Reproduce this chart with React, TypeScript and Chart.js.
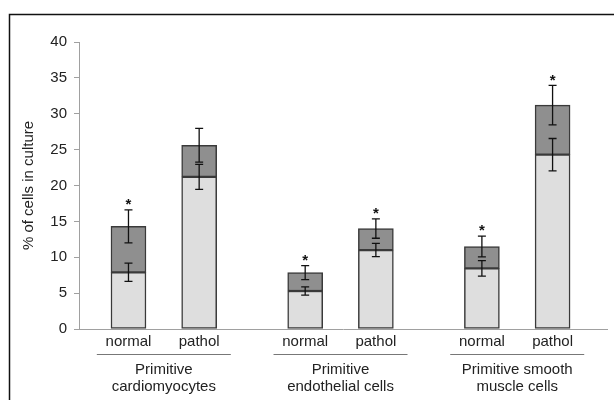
import React, { useEffect, useRef } from "react";
import { Chart, registerables } from "chart.js";

Chart.register(...registerables);

// ---- data ----
const categories = ["normal", "pathol", "normal", "pathol", "normal", "pathol"];
const groupLabels = [
  ["Primitive", "cardiomyocytes"],
  ["Primitive", "endothelial cells"],
  ["Primitive smooth", "muscle cells"],
];
const lightValues = [7.9, 21.2, 5.3, 11.0, 8.45, 24.3];
const darkValues = [6.4, 4.4, 2.55, 3.0, 3.05, 6.9];
const lightErrors = [1.27, 1.75, 0.58, 0.92, 1.07, 2.25];
const darkErrors = [2.3, 2.35, 0.97, 1.35, 1.45, 2.75];
const significant = [true, false, true, true, true, true];
const yTicks = [0, 5, 10, 15, 20, 25, 30, 35, 40];

const FONT = "'Liberation Sans', Arial, sans-serif";
const PER_GROUP = 2;
const GROUP_GAP = 0.5;
const xOf = (i: number) => Math.floor(i / PER_GROUP) * (PER_GROUP + GROUP_GAP) + (i % PER_GROUP);

const overlayPlugin = {
  id: "overlay",
  beforeDraw(chart: any) {
    const { ctx, width, height } = chart;
    ctx.save();
    ctx.fillStyle = "#ffffff";
    ctx.fillRect(0, 0, width, height);
    ctx.strokeStyle = "#111";
    ctx.lineWidth = 1.5;
    ctx.beginPath();
    ctx.moveTo(9.5, height + 5);
    ctx.lineTo(9.5, 14.5);
    ctx.lineTo(width + 5, 14.5);
    ctx.stroke();
    ctx.restore();
  },
  afterDatasetsDraw(chart: any) {
    const { ctx, chartArea } = chart;
    const xs = chart.scales.x;
    const ys = chart.scales.y;
    ctx.save();
    // error bars
    const cap = 4;
    ctx.strokeStyle = "#111";
    ctx.lineWidth = 1.3;
    const drawErr = (px: number, v: number, e: number) => {
      const top = ys.getPixelForValue(v + e);
      const bot = ys.getPixelForValue(v - e);
      ctx.beginPath();
      ctx.moveTo(px, top);
      ctx.lineTo(px, bot);
      ctx.moveTo(px - cap, top);
      ctx.lineTo(px + cap, top);
      ctx.moveTo(px - cap, bot);
      ctx.lineTo(px + cap, bot);
      ctx.stroke();
    };
    categories.forEach((_, i) => {
      const px = xs.getPixelForValue(xOf(i));
      const total = lightValues[i] + darkValues[i];
      drawErr(px, lightValues[i], lightErrors[i]);
      drawErr(px, total, darkErrors[i]);
      if (significant[i]) {
        const top = ys.getPixelForValue(total + darkErrors[i]);
        ctx.fillStyle = "#111";
        ctx.font = `bold 15px ${FONT}`;
        ctx.textAlign = "center";
        ctx.textBaseline = "middle";
        ctx.fillText("*", px, top - 5);
      }
    });
    // category labels
    ctx.fillStyle = "#222";
    ctx.font = `15px ${FONT}`;
    ctx.textAlign = "center";
    ctx.textBaseline = "middle";
    categories.forEach((c, i) => {
      ctx.fillText(c, xs.getPixelForValue(xOf(i)), chartArea.bottom + 12.5);
    });
    // group labels
    groupLabels.forEach((lines, g) => {
      const first = g * PER_GROUP;
      const last = first + PER_GROUP - 1;
      const mid = (xs.getPixelForValue(xOf(first)) + xs.getPixelForValue(xOf(last))) / 2;
      ctx.strokeStyle = "#777";
      ctx.lineWidth = 1;
      ctx.beginPath();
      ctx.moveTo(mid - 67, chartArea.bottom + 25.5);
      ctx.lineTo(mid + 67, chartArea.bottom + 25.5);
      ctx.stroke();
      lines.forEach((t, k) => {
        ctx.fillText(t, mid, chartArea.bottom + 41 + k * 17);
      });
    });
    ctx.restore();
  },
};

export default function App() {
  const ref = useRef<HTMLCanvasElement | null>(null);
  useEffect(() => {
    document.body.style.margin = "0";
    if (!ref.current) return;
    const chart = new Chart(ref.current, {
      type: "bar",
      data: {
        datasets: [
          {
            label: "light",
            data: lightValues.map((v, i) => ({ x: xOf(i), y: v })),
            backgroundColor: "#dedede",
            borderColor: "#3a3a3a",
            borderWidth: 1.5,
            borderSkipped: false,
            barThickness: 35,
          },
          {
            label: "dark",
            data: darkValues.map((v, i) => ({ x: xOf(i), y: v })),
            backgroundColor: "#8f8f8f",
            borderColor: "#3a3a3a",
            borderWidth: 1.5,
            borderSkipped: false,
            barThickness: 35,
          },
        ],
      },
      options: {
        animation: false,
        responsive: true,
        maintainAspectRatio: false,
        layout: { padding: { left: 16, right: 7, top: 42, bottom: 0 } },
        plugins: { legend: { display: false }, tooltip: { enabled: false } },
        scales: {
          x: {
            type: "linear",
            stacked: true,
            offset: false,
            min: -0.7,
            max: 6.77,
            ticks: { display: false },
            grid: { display: false, drawTicks: false, offset: false },
            border: { display: true, color: "#a0a0a0", width: 1 },
            afterFit: (axis: any) => {
              axis.height = 71;
            },
          },
          y: {
            stacked: true,
            min: 0,
            max: 40,
            afterBuildTicks: (axis: any) => {
              axis.ticks = yTicks.map((v) => ({ value: v }));
            },
            ticks: { color: "#222", font: { family: FONT, size: 15 }, padding: 7 },
            grid: { drawOnChartArea: false, tickLength: 5, color: "#a0a0a0" },
            border: { color: "#a0a0a0", width: 1 },
            title: {
              display: true,
              text: "% of cells in culture",
              color: "#222",
              font: { family: FONT, size: 15 },
              padding: { top: 4, bottom: 4 },
            },
            afterFit: (axis: any) => {
              axis.width = 63;
            },
          },
        },
      },
      plugins: [overlayPlugin],
    });
    return () => chart.destroy();
  }, []);
  return (
    <div style={{ width: 614, height: 400, position: "relative" }}>
      <canvas ref={ref} />
    </div>
  );
}
